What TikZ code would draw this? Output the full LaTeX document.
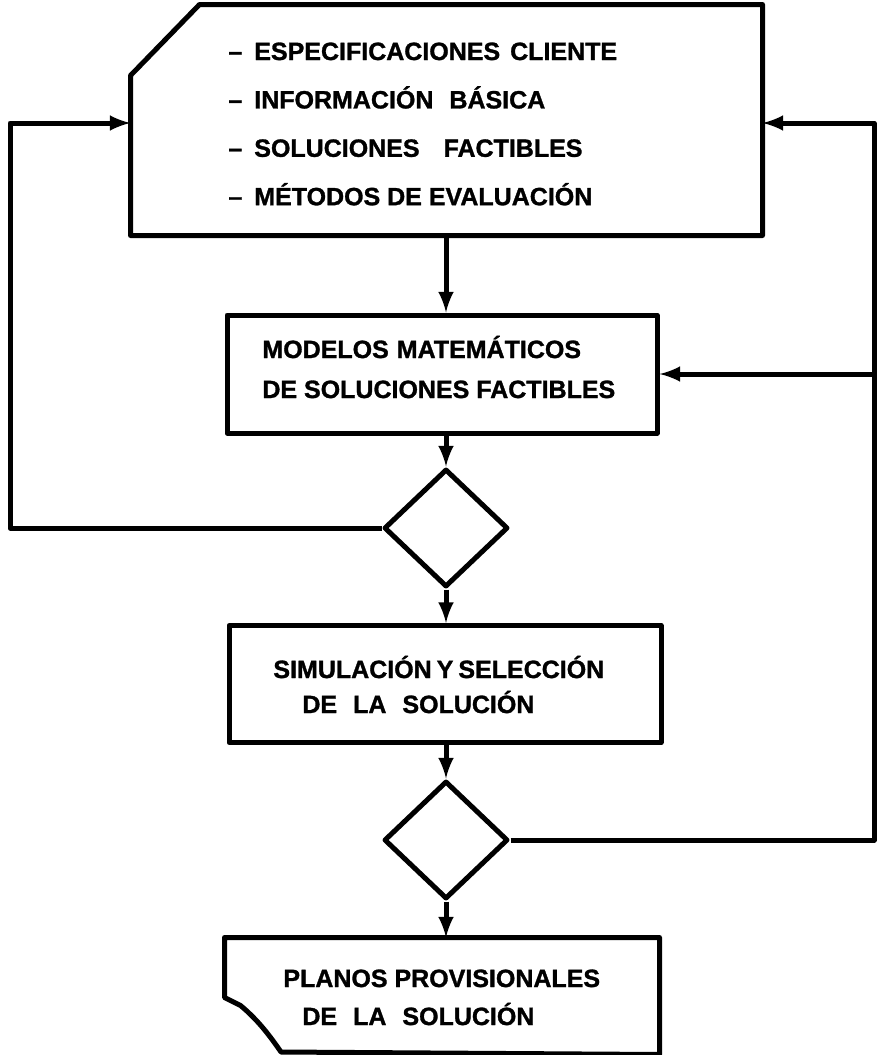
\documentclass[tikz,border=0pt]{standalone}
\usepackage{fontspec}
\setmainfont{Liberation Sans}
\newfontfamily\stencil{Liberation Sans Bold}[FakeBold=1.2, Ligatures=TeX]
\usetikzlibrary{arrows,shapes.geometric}

\tikzset{
  thickline/.style={line width=2.5pt, line join=round},
  flow/.style={thickline, -latex},
  lettering/.style={font=\fontsize{12.5}{15}\stencil, inner sep=0pt, anchor=base west},
  block/.style={rectangle, thickline, inner sep=0pt},
  decision/.style={diamond, draw, thickline, minimum width=62pt, minimum height=59pt, inner sep=0pt},
}

\begin{document}
\begin{tikzpicture}[x=0.5pt,y=-0.5pt]
      \useasboundingbox (0,0) rectangle (879,1055);

      % boxes of the main column
      \node[block, minimum width=313.5pt, minimum height=113pt] (specs) at (446.5,120) {};
      \draw[thickline] ([xshift=34.5pt]specs.north west) -- (specs.north east)
        -- (specs.south east) -- (specs.south west)
        -- ([yshift=-35.5pt]specs.north west) -- cycle;
      \node[block, draw, minimum width=215pt, minimum height=59pt] (modelos) at (442,374) {};
      \node[decision] (check1) at (446,528) {};
      \node[block, draw, minimum width=216pt, minimum height=58.5pt] (simul) at (445,684) {};
      \node[decision] (check2) at (446,840) {};
      \node[block, minimum width=215pt, minimum height=56pt] (planos) at (442,996) {};
      \draw[thickline] (planos.south east) -- (planos.north east) -- (planos.north west)
        -- ([yshift=-30pt]planos.north west) -- ++(16,8)
        .. controls (258,1020) and (270,1036) .. (281,1052) -- cycle;

      % texts
      \foreach \txt [count=\i] in {%
          {ESPECIFICACIONES\hspace{5pt}CLIENTE},
          {INFORMACIÓN\hspace{8pt}BÁSICA},
          {SOLUCIONES\hspace{12pt}FACTIBLES},
          {MÉTODOS DE EVALUACIÓN}} {
        \node[lettering] (item\i) at (228,{60+48.4*(\i-1)}) {--\hspace{6pt}\txt};
      }
      \node[lettering] (modelos1) at (262,358) {MODELOS\hspace{4pt}MATEMÁTICOS};
      \node[lettering] (modelos2) at (262,398) {DE SOLUCIONES FACTIBLES};
      \node[lettering] (simul1) at (273,678) {SIMULACIÓN\hspace{2.5pt}Y\hspace{2.5pt}SELECCIÓN};
      \node[lettering] (simul2) at (302,713) {DE\hspace{8pt}LA\hspace{8pt}SOLUCIÓN};
      \node[lettering] (planos1) at (283,987) {PLANOS PROVISIONALES};
      \node[lettering] (planos2) at (302,1025) {DE\hspace{8pt}LA\hspace{8pt}SOLUCIÓN};

      % main flow
      \draw[flow] (specs.south -| check1) -- (modelos.north -| check1);
      \draw[flow] (modelos.south -| check1) -- (check1.north);
      \draw[flow] (check1.south) -- (check1 |- simul.north);
      \draw[flow] (simul.south -| check2) -- (check2.north);
      \draw[flow] (check2.south) -- (check2 |- planos.north);

      % feedback loops
      \coordinate (leftrail) at (10,0);
      \coordinate (rightrail) at (874,0);
      \draw[flow] (check1.west) -- (check1.west -| leftrail) |- ([yshift=-1.5pt]specs.west);
      \draw[flow] (check2.east) -- (check2.east -| rightrail) |- ([yshift=-1.5pt]specs.east);
      \draw[flow] (modelos.east -| rightrail) -- (modelos.east);
    \end{tikzpicture}
\end{document}
